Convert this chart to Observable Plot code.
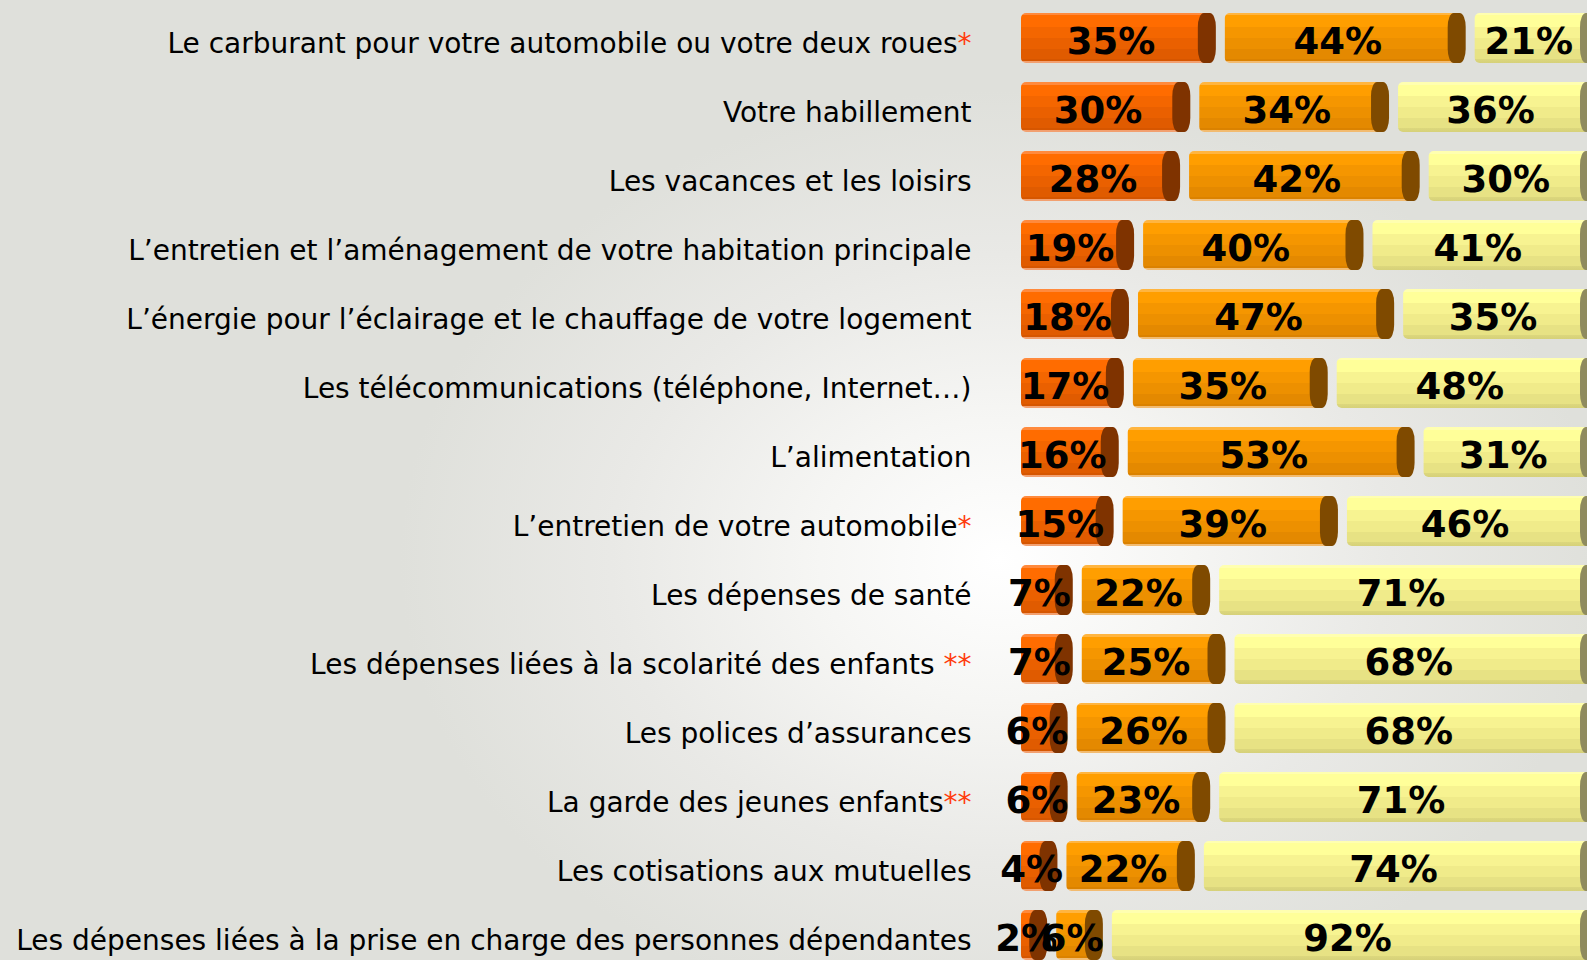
<!DOCTYPE html>
<html>
<head>
<meta charset="utf-8">
<script src="https://cdn.jsdelivr.net/npm/d3@7"></script>
<script src="https://cdn.jsdelivr.net/npm/@observablehq/plot@0.6"></script>
<style>
  html, body { margin: 0; padding: 0; overflow: hidden; }
  body {
    width: 1587px; height: 960px;
    background: radial-gradient(ellipse 600px 470px at 1000px 560px, #ffffff 0%, #f6f6f4 30%, #e9e9e6 65%, #dfe0db 100%);
    background-color: #dfe0db;
  }
  #chart svg { display: block; }
</style>
</head>
<body>
<svg width="0" height="0" style="position:absolute">
  <defs>
    <linearGradient id="g0" x1="0" y1="0" x2="0" y2="1">
      <stop offset="0" stop-color="#ff8a3d"/><stop offset="0.05" stop-color="#ff8a3d"/>
      <stop offset="0.05" stop-color="#ff6c00"/><stop offset="0.28" stop-color="#ff6c00"/>
      <stop offset="0.28" stop-color="#f46600"/><stop offset="0.5" stop-color="#f46600"/>
      <stop offset="0.5" stop-color="#ea6000"/><stop offset="0.72" stop-color="#ea6000"/>
      <stop offset="0.72" stop-color="#e05b00"/><stop offset="0.92" stop-color="#e05b00"/>
      <stop offset="0.92" stop-color="#d65600"/><stop offset="0.96" stop-color="#d65600"/>
      <stop offset="0.96" stop-color="#f2a070"/><stop offset="1" stop-color="#f2a070"/>
    </linearGradient>
    <linearGradient id="g1" x1="0" y1="0" x2="0" y2="1">
      <stop offset="0" stop-color="#ffb540"/><stop offset="0.05" stop-color="#ffb540"/>
      <stop offset="0.05" stop-color="#ff9e00"/><stop offset="0.28" stop-color="#ff9e00"/>
      <stop offset="0.28" stop-color="#f59600"/><stop offset="0.5" stop-color="#f59600"/>
      <stop offset="0.5" stop-color="#ed9000"/><stop offset="0.72" stop-color="#ed9000"/>
      <stop offset="0.72" stop-color="#e48900"/><stop offset="0.92" stop-color="#e48900"/>
      <stop offset="0.92" stop-color="#db8200"/><stop offset="0.96" stop-color="#db8200"/>
      <stop offset="0.96" stop-color="#f2bb70"/><stop offset="1" stop-color="#f2bb70"/>
    </linearGradient>
    <linearGradient id="g2" x1="0" y1="0" x2="0" y2="1">
      <stop offset="0" stop-color="#ffffb0"/><stop offset="0.05" stop-color="#ffffb0"/>
      <stop offset="0.05" stop-color="#ffff99"/><stop offset="0.28" stop-color="#ffff99"/>
      <stop offset="0.28" stop-color="#f7f391"/><stop offset="0.5" stop-color="#f7f391"/>
      <stop offset="0.5" stop-color="#f0eb8a"/><stop offset="0.72" stop-color="#f0eb8a"/>
      <stop offset="0.72" stop-color="#e7e284"/><stop offset="0.92" stop-color="#e7e284"/>
      <stop offset="0.92" stop-color="#dcd77d"/><stop offset="1" stop-color="#d6d179"/>
    </linearGradient>
  </defs>
</svg>
<div id="chart"></div>
<script>
const categories = [
  "Le carburant pour votre automobile ou votre deux roues*",
  "Votre habillement",
  "Les vacances et les loisirs",
  "L’entretien et l’aménagement de votre habitation principale",
  "L’énergie pour l’éclairage et le chauffage de votre logement",
  "Les télécommunications (téléphone, Internet…)",
  "L’alimentation",
  "L’entretien de votre automobile*",
  "Les dépenses de santé",
  "Les dépenses liées à la scolarité des enfants **",
  "Les polices d’assurances",
  "La garde des jeunes enfants**",
  "Les cotisations aux mutuelles",
  "Les dépenses liées à la prise en charge des personnes dépendantes"
];
const series1 = [35, 30, 28, 19, 18, 17, 16, 15, 7, 7, 6, 6, 4, 2];
const series2 = [44, 34, 42, 40, 47, 35, 53, 39, 22, 25, 26, 23, 22, 6];
const series3 = [21, 36, 30, 41, 35, 48, 31, 46, 71, 68, 68, 71, 74, 92];
const seriesValues = [series1, series2, series3];

const capColors = ["#7f3300", "#7f4a00", "#8f8b5e"];
const segShift = 25;   // cap + gap in pixels between stacked segments

const table = [];
categories.forEach((cat, i) => {
  let acc = 0;
  seriesValues.forEach((vals, k) => {
    const v = vals[i];
    table.push({cat, k, v, x1: acc, x2: acc + v});
    acc += v;
  });
});

const marks = [];
for (let k = 0; k < 3; k++) {
  const d = table.filter(r => r.k === k);
  marks.push(Plot.barX(d, {y: "cat", x1: "x1", x2: "x2", dx: k * segShift, insetRight: -8, fill: `url(#g${k})`, rx: 5}));
  marks.push(Plot.barX(d, {y: "cat", x1: "x2", x2: "x2", dx: k * segShift, insetLeft: -2, insetRight: -16, fill: capColors[k], rx: 6, ry: 14}));
  marks.push(Plot.text(d, {y: "cat", x: r => (r.x1 + r.x2) / 2, dx: k * segShift, dy: 4, text: r => r.v + "%", fontWeight: "bold", fontSize: 37, fill: "black"}));
}
marks.push(Plot.axisY({tickSize: 0, tickPadding: 50, fontSize: 28, dy: 6, fill: "#000"}));

const chart = Plot.plot({
  width: 1587,
  height: 971,
  marginLeft: 1021,
  marginRight: 55,
  marginTop: 2,
  marginBottom: 0,
  style: {fontFamily: "DejaVu Sans", background: "transparent", overflow: "visible", color: "#000"},
  x: {domain: [0, 100], axis: null},
  y: {domain: categories, paddingInner: 0.278, paddingOuter: 0.139, label: null},
  marks
});
document.getElementById("chart").appendChild(chart);

// colour the trailing asterisks red
d3.select(chart).selectAll('g[aria-label="y-axis tick label"] text').each(function() {
  const t = this.textContent;
  const m = t.match(/^(.*?)(\s?\*+)$/);
  if (m) {
    this.textContent = m[1];
    d3.select(this).append("tspan").attr("fill", "#ff3d0d").text(m[2]);
  }
});
</script>
</body>
</html>
